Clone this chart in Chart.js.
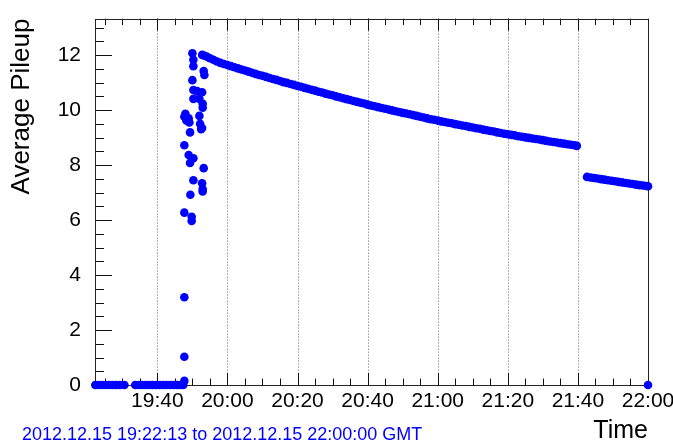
<!DOCTYPE html>
<html>
<head>
<meta charset="utf-8">
<script src="https://cdn.jsdelivr.net/npm/chart.js@4/dist/chart.umd.min.js"></script>
<style>
  html, body { margin: 0; padding: 0; background: #fff; }
</style>
</head>
<body>
<canvas id="pileupChart" width="673" height="444"></canvas>
<script>
// times are minutes after 19:00 GMT
const timeMin = 22.2167;   // 19:22:13
const timeMax = 180;       // 22:00:00
const majorTimes = [40, 60, 80, 100, 120, 140, 160, 180];
const pileupTicks = [0, 2, 4, 6, 8, 10, 12];
const pileupMax = 13.33;

// no beam
const offTimes = [22.3, 23.3, 24.3, 25.3, 26.3, 27.3, 28.3, 29.3, 30.6,
  33.7, 34.7, 35.7, 36.7, 37.7, 38.7, 39.7, 40.7, 41.7, 42.7, 43.7, 44.7, 45.7, 46.7, 47.4];
const offValues = [0, 0, 0, 0, 0, 0, 0, 0, 0,
  0, 0, 0, 0, 0, 0, 0, 0, 0, 0, 0, 0, 0, 0, 0];

// injection / ramp
const rampTimes = [47.71, 47.71, 47.71, 47.71, 47.71, 47.71, 48.0, 48.3, 48.94, 49.14,
  49.34, 48.94, 50.29, 49.34, 50.29, 49.43, 49.8, 49.8, 50.0, 50.29,
  50.29, 50.0, 50.29, 51.34, 52.77, 50.29, 52.0, 52.94, 52.94, 52.0,
  52.2, 52.77, 52.49, 53.23, 53.43, 53.23, 52.77, 52.94, 52.94];
const rampValues = [0.15, 1.03, 3.19, 6.27, 8.72, 9.76, 9.87, 9.62, 9.70, 9.55,
  9.19, 8.37, 8.25, 8.08, 7.45, 6.92, 6.12, 5.97, 12.07, 11.83,
  11.60, 11.09, 10.73, 10.69, 10.65, 10.41, 10.41, 10.23, 10.09, 9.79,
  9.50, 9.35, 9.31, 11.42, 11.28, 7.89, 7.34, 7.04, 7.13];

// stable beams, first fill segment
const decayTimes = [52.8, 53.5, 54.2,
  55, 56, 57, 58, 59, 60, 61, 62, 63, 64,
  65, 66, 67, 68, 69, 70, 71, 72, 73, 74,
  75, 76, 77, 78, 79, 80, 81, 82, 83, 84,
  85, 86, 87, 88, 89, 90, 91, 92, 93, 94,
  95, 96, 97, 98, 99, 100, 101, 102, 103, 104,
  105, 106, 107, 108, 109, 110, 111, 112, 113, 114,
  115, 116, 117, 118, 119, 120, 121, 122, 123, 124,
  125, 126, 127, 128, 129, 130, 131, 132, 133, 134,
  135, 136, 137, 138, 139, 140, 141, 142, 143, 144,
  145, 146, 147, 148, 149, 150, 151, 152, 153, 154,
  155, 156, 157, 158, 159, 159.7];
const decayValues = [12.01, 11.98, 11.94,
  11.89, 11.83, 11.77, 11.72, 11.68, 11.64, 11.60, 11.56, 11.52, 11.48,
  11.44, 11.40, 11.36, 11.32, 11.28, 11.25, 11.21, 11.17, 11.13, 11.10,
  11.06, 11.02, 10.99, 10.95, 10.92, 10.88, 10.85, 10.81, 10.78, 10.74,
  10.71, 10.67, 10.64, 10.60, 10.57, 10.54, 10.50, 10.47, 10.43, 10.40,
  10.37, 10.33, 10.30, 10.27, 10.24, 10.20, 10.17, 10.14, 10.11, 10.08,
  10.05, 10.02, 9.99, 9.96, 9.93, 9.90, 9.88, 9.85, 9.82, 9.79,
  9.76, 9.73, 9.70, 9.67, 9.65, 9.62, 9.59, 9.57, 9.54, 9.52,
  9.49, 9.47, 9.44, 9.42, 9.39, 9.37, 9.34, 9.32, 9.29, 9.27,
  9.24, 9.22, 9.19, 9.17, 9.14, 9.12, 9.10, 9.08, 9.05, 9.03,
  9.01, 8.99, 8.97, 8.95, 8.93, 8.91, 8.88, 8.86, 8.84, 8.82,
  8.80, 8.78, 8.76, 8.74, 8.72, 8.70];

// after the gap
const tailTimes = [162.6, 163.6, 164.6, 165.6, 166.6, 167.6, 168.6, 169.6, 170.6, 171.6,
  172.6, 173.6, 174.6, 175.6, 176.6, 177.6, 178.6, 179.6, 180];
const tailValues = [7.57, 7.55, 7.53, 7.51, 7.49, 7.47, 7.45, 7.43, 7.41, 7.39,
  7.37, 7.35, 7.33, 7.31, 7.29, 7.27, 7.26, 7.24, 7.23];

const endTimes = [180];
const endValues = [0];

const FONT = "'Liberation Sans', Arial, Helvetica, sans-serif";

function toPoints(ts, vs) { return ts.map((t, i) => ({ x: t, y: vs[i] })); }

const points = [].concat(
  toPoints(offTimes, offValues),
  toPoints(rampTimes, rampValues),
  toPoints(decayTimes, decayValues),
  toPoints(tailTimes, tailValues),
  toPoints(endTimes, endValues)
);

function fmtTime(v) {
  const h = 19 + Math.floor(v / 60);
  const m = Math.round(v % 60);
  return h + ':' + String(m).padStart(2, '0');
}

// ROOT-like frame: dotted time grid, inward ticks, box
const rootFrame = {
  id: 'rootFrame',
  beforeDatasetsDraw(chart) {
    const { ctx, chartArea: a, scales: { x, y } } = chart;
    ctx.save();
    ctx.lineWidth = 1;

    ctx.strokeStyle = '#666';
    ctx.setLineDash([1, 2]);
    majorTimes.forEach(t => {
      if (t >= timeMax) return;
      const px = Math.round(x.getPixelForValue(t)) + 0.5;
      ctx.beginPath(); ctx.moveTo(px, a.top); ctx.lineTo(px, a.bottom); ctx.stroke();
    });
    ctx.setLineDash([]);

    ctx.strokeStyle = '#111';
    ctx.beginPath();
    for (let t = 25; t <= timeMax; t += 5) {
      const major = majorTimes.includes(t);
      const len = major ? 12 : 6.5;
      const px = Math.round(x.getPixelForValue(t)) + 0.5;
      ctx.moveTo(px, a.bottom); ctx.lineTo(px, a.bottom - len);
      ctx.moveTo(px, a.top); ctx.lineTo(px, a.top + len);
    }
    for (let v = 0.5; v <= pileupMax; v += 0.5) {
      const major = pileupTicks.includes(v);
      const len = major ? 17 : 9;
      const py = Math.round(y.getPixelForValue(v)) + 0.5;
      ctx.moveTo(a.left, py); ctx.lineTo(a.left + len, py);
    }
    ctx.stroke();

    ctx.strokeStyle = '#222';
    ctx.strokeRect(Math.round(a.left) + 0.5, Math.round(a.top) + 0.5,
      Math.round(a.right - a.left), Math.round(a.bottom - a.top));
    ctx.restore();
  },
  afterDraw(chart) {
    const { ctx } = chart;
    ctx.save();
    ctx.fillStyle = '#0000ff';
    ctx.font = '18px ' + FONT;
    ctx.textBaseline = 'alphabetic';
    ctx.fillText('2012.12.15 19:22:13 to 2012.12.15 22:00:00 GMT', 22, 440);
    ctx.restore();
  }
};

new Chart(document.getElementById('pileupChart'), {
  type: 'scatter',
  data: {
    datasets: [{
      data: points,
      backgroundColor: '#0000ff',
      borderWidth: 0,
      pointRadius: 4.3,
      pointHoverRadius: 4.3,
      clip: false
    }]
  },
  options: {
    responsive: false,
    animation: false,
    events: [],
    layout: { padding: { left: 0, right: 25, top: 10, bottom: 0 } },
    plugins: { legend: { display: false }, tooltip: { enabled: false } },
    scales: {
      x: {
        type: 'linear',
        min: timeMin,
        max: timeMax,
        afterBuildTicks: s => { s.ticks = majorTimes.map(v => ({ value: v })); },
        afterFit: s => { s.height = 59; s.paddingLeft = 0; s.paddingRight = 0; },
        grid: { display: false },
        border: { display: false },
        ticks: {
          callback: fmtTime, color: '#000', padding: -4,
          maxRotation: 0, autoSkip: false,
          font: { family: FONT, size: 21 }
        },
        title: {
          display: true, text: 'Time', align: 'end', color: '#000',
          font: { family: FONT, size: 25, lineHeight: 1 },
          padding: { top: 0, bottom: 0 }
        }
      },
      y: {
        min: 0,
        max: pileupMax,
        afterBuildTicks: s => { s.ticks = pileupTicks.map(v => ({ value: v })); },
        afterFit: s => { s.width = 95; },
        grid: { display: false },
        border: { display: false },
        ticks: { color: '#000', padding: 6, font: { family: FONT, size: 21 } },
        title: {
          display: true, text: 'Average Pileup', align: 'end', color: '#000',
          font: { family: FONT, size: 26, lineHeight: 1 },
          padding: { top: 9, bottom: 0 }
        }
      }
    }
  },
  plugins: [rootFrame]
});
</script>
</body>
</html>
